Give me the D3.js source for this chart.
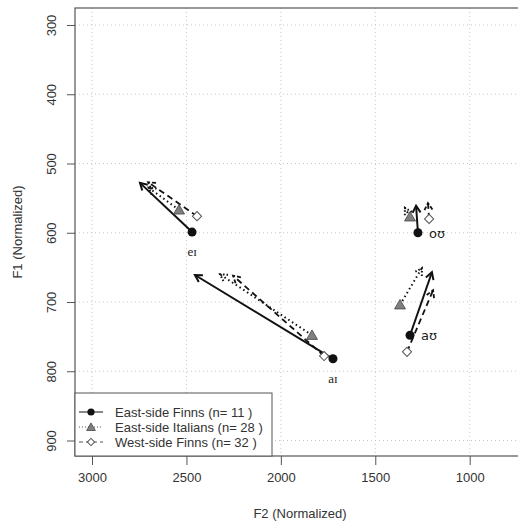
<!DOCTYPE html>
<html><head><meta charset="utf-8">
<script src="https://cdn.jsdelivr.net/npm/d3@7"></script>
<style>body{margin:0;background:#fff}svg{display:block}</style>
</head><body>
<svg id="c" width="518" height="523"></svg>
<script>
const vowels = ["eɪ", "aɪ", "aʊ", "oʊ"];
const vowelLabelSide = ["below", "below", "right", "right"];
const xTicks = [3000, 2500, 2000, 1500, 1000];
const yTicks = [300, 400, 500, 600, 700, 800, 900];

const eastFinnsStartF2 = [2470, 1724, 1316, 1274];
const eastFinnsStartF1 = [599, 782, 748, 600];
const eastFinnsEndF2 = [2746, 2455, 1200, 1284];
const eastFinnsEndF1 = [528, 661, 657, 561];

const italiansStartF2 = [2539, 1835, 1369, 1316];
const italiansStartF1 = [567, 748, 704, 577];
const italiansEndF2 = [2700, 2322, 1253, 1343];
const italiansEndF1 = [535, 660, 651, 564];

const westFinnsStartF2 = [2444, 1771, 1332, 1215];
const westFinnsStartF1 = [576, 778, 772, 580];
const westFinnsEndF2 = [2703, 2253, 1194, 1221];
const westFinnsEndF1 = [527, 662, 683, 557];

const groupNames = ["East-side Finns (n= 11 )", "East-side Italians (n= 28 )", "West-side Finns (n= 32 )"];

(function () {
const svg = d3.select("#c");
const pL = 75, pT = 8, pR = 522, pB = 456;
const x = d3.scaleLinear().domain([3000, 1000]).range([92, 469.7]);
const y = d3.scaleLinear().domain([300, 900]).range([25, 440.5]);
const font = "'Liberation Sans', Arial, sans-serif";

// grid
const g = svg.append("g");
g.selectAll(".gx").data(xTicks).enter().append("line")
  .attr("x1", d => x(d)).attr("x2", d => x(d)).attr("y1", pT).attr("y2", pB)
  .attr("stroke", "#c8c8c8").attr("stroke-dasharray", "1,3").attr("stroke-width", 1);
g.selectAll(".gy").data(yTicks).enter().append("line")
  .attr("y1", d => y(d)).attr("y2", d => y(d)).attr("x1", pL).attr("x2", pR)
  .attr("stroke", "#c8c8c8").attr("stroke-dasharray", "1,3").attr("stroke-width", 1);

// axes
const xAxis = d3.axisBottom(x).tickValues(xTicks).tickFormat(d3.format("d")).tickSize(9).tickPadding(8);
const ax = svg.append("g").attr("transform", `translate(0,${pB})`).call(xAxis);
ax.select(".domain").remove();
ax.selectAll("line").attr("stroke", "#555");
ax.selectAll("text").attr("font-family", font).attr("font-size", 13).attr("fill", "#333");

const yAxis = d3.axisLeft(y).tickValues(yTicks).tickFormat(d3.format("d")).tickSize(8).tickPadding(0);
const ay = svg.append("g").attr("transform", `translate(${pL},0)`).call(yAxis);
ay.select(".domain").remove();
ay.selectAll("line").attr("stroke", "#555");
ay.selectAll(".tick text").attr("font-family", font).attr("font-size", 13).attr("fill", "#333")
  .attr("text-anchor", "middle").attr("dy", null)
  .attr("transform", "rotate(-90)").attr("x", 0).attr("y", -19);

svg.append("rect").attr("x", pL).attr("y", pT).attr("width", pR - pL).attr("height", pB - pT)
  .attr("fill", "none").attr("stroke", "#555").attr("stroke-width", 1.2);

svg.append("text").attr("x", 300).attr("y", 518).attr("text-anchor", "middle")
  .attr("font-family", font).attr("font-size", 13).attr("fill", "#333").text("F2 (Normalized)");
svg.append("text").attr("transform", `translate(22,232) rotate(-90)`).attr("text-anchor", "middle")
  .attr("font-family", font).attr("font-size", 13).attr("fill", "#333").text("F1 (Normalized)");

const groups = [
  {sF2: eastFinnsStartF2, sF1: eastFinnsStartF1, eF2: eastFinnsEndF2, eF1: eastFinnsEndF1, dash: null, width: 2, marker: "circle"},
  {sF2: italiansStartF2, sF1: italiansStartF1, eF2: italiansEndF2, eF1: italiansEndF1, dash: "1.5,3", width: 2, marker: "triangle"},
  {sF2: westFinnsStartF2, sF1: westFinnsStartF1, eF2: westFinnsEndF2, eF1: westFinnsEndF1, dash: "6,4", width: 1.8, marker: "diamond"}
];

function drawMarker(sel, type, cx, cy, s) {
  if (type === "circle") {
    sel.append("circle").attr("cx", cx).attr("cy", cy).attr("r", 4.5 * s).attr("fill", "#111");
  } else if (type === "triangle") {
    sel.append("path").attr("d", d3.symbol(d3.symbolTriangle, 52 * s * s)())
      .attr("transform", `translate(${cx},${cy + 1})`).attr("fill", "#808080").attr("stroke", "#444").attr("stroke-width", 0.8);
  } else {
    sel.append("path").attr("d", d3.symbol(d3.symbolSquare, 42 * s * s)())
      .attr("transform", `translate(${cx},${cy}) rotate(45)`)
      .attr("fill", "#fff").attr("stroke", "#555").attr("stroke-width", 1);
  }
}

const lines = svg.append("g");
groups.forEach(gr => {
  vowels.forEach((v, i) => {
    const x1 = x(gr.sF2[i]), y1 = y(gr.sF1[i]), x2 = x(gr.eF2[i]), y2 = y(gr.eF1[i]);
    const line = lines.append("line").attr("x1", x1).attr("y1", y1).attr("x2", x2).attr("y2", y2)
      .attr("stroke", "#111").attr("stroke-width", gr.width);
    if (gr.dash) line.attr("stroke-dasharray", gr.dash);
    const ang = Math.atan2(y2 - y1, x2 - x1), L = 8, a = Math.PI / 6;
    const p = `M${x2 - L * Math.cos(ang - a)},${y2 - L * Math.sin(ang - a)}L${x2},${y2}L${x2 - L * Math.cos(ang + a)},${y2 - L * Math.sin(ang + a)}`;
    const head = lines.append("path").attr("d", p).attr("fill", "none").attr("stroke", "#111").attr("stroke-width", gr.width);
    if (gr.dash) head.attr("stroke-dasharray", gr.dash === "6,4" ? "4,2" : "1.5,2");
  });
});
const marks = svg.append("g");
groups.forEach(gr => {
  vowels.forEach((v, i) => drawMarker(marks, gr.marker, x(gr.sF2[i]), y(gr.sF1[i]), 1));
});

// vowel labels
vowels.forEach((v, i) => {
  const cx = x(eastFinnsStartF2[i]), cy = y(eastFinnsStartF1[i]);
  const side = vowelLabelSide[i];
  const t = svg.append("text")
    .attr("font-family", side === "below" ? "'Liberation Serif', 'DejaVu Serif', serif" : "'DejaVu Sans', sans-serif")
    .attr("font-size", 13).attr("fill", "#222").text(v);
  if (side === "below") t.attr("x", cx).attr("y", cy + 24).attr("text-anchor", "middle");
  else t.attr("x", cx + 11).attr("y", cy + 5).attr("text-anchor", "start");
});

// legend
const lg = svg.append("g");
lg.append("rect").attr("x", pL).attr("y", 393).attr("width", 197).attr("height", pB - 393)
  .attr("fill", "#fff").attr("stroke", "#555").attr("stroke-width", 1);
groupNames.forEach((name, i) => {
  const yy = 412 + i * 15;
  const gr = groups[i];
  const l = lg.append("line").attr("x1", 79).attr("x2", 103).attr("y1", yy).attr("y2", yy)
    .attr("stroke", "#111").attr("stroke-width", 1);
  if (gr.dash) l.attr("stroke-dasharray", gr.dash === "6,4" ? "4,3" : "1,2").attr("stroke", "#555");
  drawMarker(lg, gr.marker, 91, yy, 0.8);
  lg.append("text").attr("x", 115).attr("y", yy + 4.5).attr("font-family", font).attr("font-size", 13)
    .attr("fill", "#333").text(name);
});
})();
</script>
</body></html>
